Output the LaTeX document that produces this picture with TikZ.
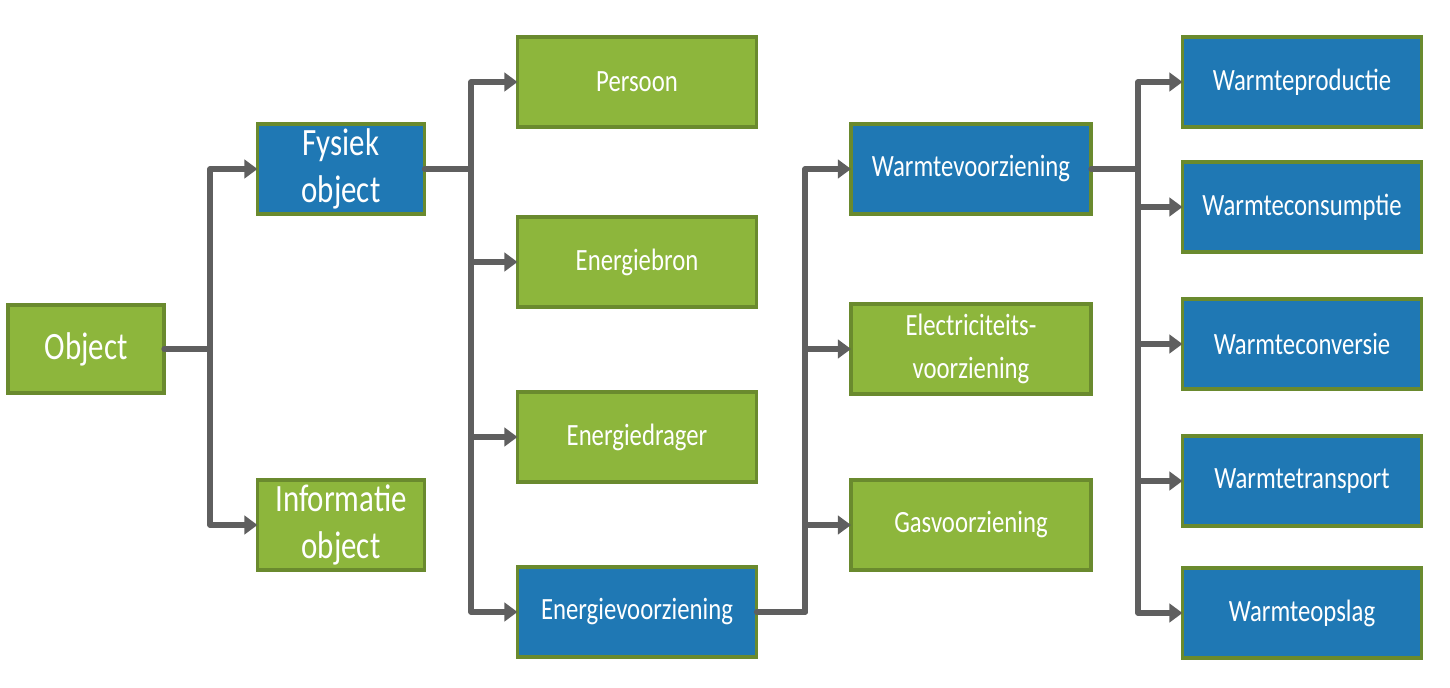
\documentclass[tikz,border=0pt]{standalone}
\usepackage{fontspec}
\newfontfamily\boxfont[FakeStretch=0.8]{Carlito}
\usetikzlibrary{arrows.meta}
\definecolor{leafgreen}{HTML}{8DB63C}
\definecolor{edgegreen}{HTML}{6A8A2E}
\definecolor{objblue}{HTML}{1F78B4}
\definecolor{linegray}{HTML}{5F5F5F}

\begin{document}
\begin{tikzpicture}[x=0.02cm, y=-0.02cm,
    box/.style={draw=edgegreen, line width=2.2pt, text=white, align=center,
        inner sep=0pt, outer sep=0pt, font=\boxfont\fontsize{17.6}{24}\selectfont},
    greenbox/.style={box, fill=leafgreen},
    bluebox/.style={box, fill=objblue},
    big/.style={font=\boxfont\fontsize{22}{27}\selectfont},
    link/.style={draw=linegray, line width=3pt, line join=round, line cap=round},
    arr/.style={link, -{Triangle[length=7.5pt,width=10.5pt]}}]
    \useasboundingbox (0,0) rectangle (1450,688);

    % level 0 and 1
    \node[greenbox, big, minimum width=156*0.02cm, minimum height=88*0.02cm] (obj) at (86,349) {Object};
    \node[bluebox, big, minimum width=167*0.02cm, minimum height=90*0.02cm] (fys) at (341,169) {Fysiek\\object};
    \node[greenbox, big, minimum width=167*0.02cm, minimum height=90*0.02cm] (inf) at (341,525) {Informatie\\object};

    % level 2
    \node[greenbox, minimum width=239*0.02cm, minimum height=90*0.02cm] (pers) at (637,82) {Persoon};
    \node[greenbox, minimum width=239*0.02cm, minimum height=90*0.02cm] (ebron) at (637,262) {Energiebron};
    \node[greenbox, minimum width=239*0.02cm, minimum height=90*0.02cm] (edrag) at (637,437) {Energiedrager};
    \node[bluebox, minimum width=239*0.02cm, minimum height=90*0.02cm] (evz) at (637,612) {Energievoorziening};

    % level 3
    \node[bluebox, minimum width=240*0.02cm, minimum height=90*0.02cm] (wvz) at (971,169) {Warmtevoorziening};
    \node[greenbox, minimum width=240*0.02cm, minimum height=90*0.02cm] (elvz) at (971,349) {Electriciteits-\\voorziening};
    \node[greenbox, minimum width=240*0.02cm, minimum height=90*0.02cm] (gasvz) at (971,525) {Gasvoorziening};

    % level 4
    \node[bluebox, minimum width=239*0.02cm, minimum height=90*0.02cm] (wprod) at (1302,82) {Warmteproductie};
    \node[bluebox, minimum width=239*0.02cm, minimum height=90*0.02cm] (wcons) at (1302,207) {Warmteconsumptie};
    \node[bluebox, minimum width=239*0.02cm, minimum height=90*0.02cm] (wconv) at (1302,344) {Warmteconversie};
    \node[bluebox, minimum width=239*0.02cm, minimum height=90*0.02cm] (wtrans) at (1302,481) {Warmtetransport};
    \node[bluebox, minimum width=239*0.02cm, minimum height=90*0.02cm] (wopsl) at (1302,613) {Warmteopslag};

    % junctions
    \coordinate (j1) at (210,349);
    \coordinate (j2) at (471,169);
    \coordinate (j3) at (805,612);
    \coordinate (j4) at (1138,169);

    \draw[link] (obj.east) -- (j1);
    \foreach \t in {fys,inf}
        \draw[arr] (j1) |- (\t.west);

    \draw[link] (fys.east) -- (j2);
    \foreach \t in {pers,ebron,edrag,evz}
        \draw[arr] (j2) |- (\t.west);

    \draw[link] (evz.east) -- (j3);
    \foreach \t in {wvz,elvz,gasvz}
        \draw[arr] (j3) |- (\t.west);

    \draw[link] (wvz.east) -- (j4);
    \foreach \t in {wprod,wcons,wconv,wtrans,wopsl}
        \draw[arr] (j4) |- (\t.west);
\end{tikzpicture}
\end{document}
